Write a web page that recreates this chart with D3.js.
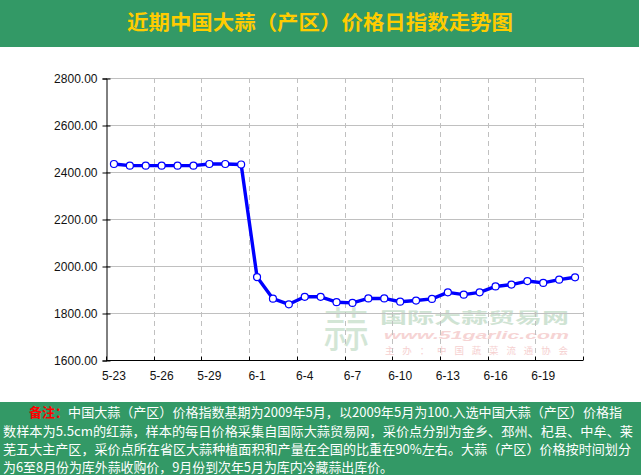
<!DOCTYPE html>
<html><head><meta charset="utf-8">
<script src="https://cdn.jsdelivr.net/npm/d3@7"></script>
<style>body{margin:0;background:#fff}svg{display:block}</style>
</head><body>
<svg id="c" width="641" height="475"></svg>
<script>
const title = "近期中国大蒜（产区）价格日指数走势图";
const categories = ["5-23","5-24","5-25","5-26","5-27","5-28","5-29","5-30","5-31",
  "6-1","6-2","6-3","6-4","6-5","6-6","6-7","6-8","6-9","6-10","6-11","6-12","6-13",
  "6-14","6-15","6-16","6-17","6-18","6-19","6-20","6-21"];
const values = [2434,2427,2427,2427,2427,2427,2434,2434,2432,
  1953,1861,1837,1869,1869,1846,1843,1862,1862,1848,1853,1860,1888,
  1878,1888,1913,1921,1936,1928,1942,1952];
const yTicks = [1600,1800,2000,2200,2400,2600,2800];
const xTickLabels = ["5-23","5-26","5-29","6-1","6-4","6-7","6-10","6-13","6-16","6-19"];
const noteLabel = "备注：";
const noteLines = [
  "中国大蒜（产区）价格指数基期为2009年5月，以2009年5月为100.入选中国大蒜（产区）价格指",
  "数样本为5.5cm的红蒜，样本的每日价格采集自国际大蒜贸易网，采价点分别为金乡、邳州、杞县、中牟、莱",
  "芜五大主产区，采价点所在省区大蒜种植面积和产量在全国的比重在90%左右。大蒜（产区）价格按时间划分",
  "为6至8月份为库外蒜收购价，9月份到次年5月为库内冷藏蒜出库价。"
];
const wmTitle = "国际大蒜贸易网", wmUrl = "www.51garlic.com", wmHost = "主办：中国蔬菜流通协会";

const svg = d3.select("#c");
const GREEN = "#339966";
const cjk = "'Noto Sans CJK SC', sans-serif";
const lat = "'Liberation Sans', Arial, sans-serif";

// title band
svg.append("rect").attr("x",0).attr("y",0).attr("width",639).attr("height",47).attr("fill",GREEN);
svg.append("text").attr("x",127).attr("y",30).attr("font-family",cjk).attr("font-size",20)
  .attr("font-weight","bold").attr("fill","#FFCC00").attr("textLength",386).attr("lengthAdjust","spacingAndGlyphs")
  .text(title);

const L=106,R=583,T=78,B=360;
const x = d3.scaleBand().domain(categories).range([L,R]);
const y = d3.scaleLinear().domain([1600,2800]).range([B,T]);

// watermark
const wm = svg.append("g");
wm.append("text").attr("x",323).attr("y",346).attr("font-family",cjk).attr("font-size",46)
  .attr("fill","#d3e6d6").text("蒜");
wm.append("text").attr("x",380).attr("y",323).attr("font-family",cjk).attr("font-size",15).attr("font-weight","bold")
  .attr("fill","#cfe3d3").attr("textLength",189).attr("lengthAdjust","spacingAndGlyphs").text(wmTitle);
wm.append("text").attr("x",384).attr("y",338.5).attr("font-family",lat).attr("font-size",11).attr("font-weight","bold")
  .attr("font-style","italic").attr("fill","#f6d4d4").attr("textLength",185).attr("lengthAdjust","spacingAndGlyphs").text(wmUrl);
wm.append("text").attr("x",385).attr("y",354).attr("font-family",cjk).attr("font-size",9.5)
  .attr("fill","#f6d0d0").attr("textLength",183).attr("lengthAdjust","spacing").text(wmHost);

// horizontal grid
svg.append("g").selectAll("line").data(yTicks).join("line")
  .attr("x1",L).attr("x2",R).attr("y1",d=>y(d)+0.5).attr("y2",d=>y(d)+0.5)
  .attr("stroke","#c0c0c0").attr("stroke-width",1);
// vertical dashed grid at band boundaries
const xb = xTickLabels.map(c=>x(c)).concat([R]);
svg.append("g").selectAll("line").data(xb.slice(1)).join("line")
  .attr("x1",d=>Math.round(d)+0.5).attr("x2",d=>Math.round(d)+0.5).attr("y1",T).attr("y2",B)
  .attr("stroke","#c0c0c0").attr("stroke-width",1).attr("stroke-dasharray","5,4");

// axes
const yAxis = d3.axisLeft(y).tickValues(yTicks).tickFormat(d3.format(".2f")).tickSize(4).tickPadding(5);
const gy = svg.append("g").attr("transform",`translate(${L+0.5},0.5)`).call(yAxis);
gy.select(".domain").attr("stroke","#000");
gy.selectAll(".tick line").attr("stroke","#000").attr("x2",-4).attr("x1",4);
gy.selectAll("text").attr("font-family",lat).attr("font-size",12).attr("fill","#111").attr("dy","0.36em");

const gx = svg.append("g").attr("transform",`translate(0,${B+0.5})`);
gx.append("line").attr("x1",L).attr("x2",R).attr("y1",0).attr("y2",0).attr("stroke","#000");
gx.selectAll("line.t").data(xb).join("line").attr("class","t")
  .attr("x1",d=>Math.round(d)+0.5).attr("x2",d=>Math.round(d)+0.5).attr("y1",0).attr("y2",-4).attr("stroke","#000");
gx.selectAll("text").data(xTickLabels).join("text")
  .attr("x",d=>x(d)+x.bandwidth()/2).attr("y",19).attr("text-anchor","middle")
  .attr("font-family",lat).attr("font-size",12).attr("fill","#111").text(d=>d);

// line
const pts = categories.map((c,i)=>[x(c)+x.bandwidth()/2, y(values[i])]);
svg.append("path").attr("d",d3.line()(pts)).attr("fill","none").attr("stroke","#0000ff")
  .attr("stroke-width",3.4).attr("stroke-linejoin","round");
svg.append("g").selectAll("circle").data(pts).join("circle")
  .attr("cx",d=>d[0]).attr("cy",d=>d[1]).attr("r",3.5)
  .attr("fill","#fff").attr("stroke","#0000ff").attr("stroke-width",1.2);

// footer
svg.append("rect").attr("x",0).attr("y",402).attr("width",641).attr("height",73).attr("fill",GREEN);
const lineX = [29,3,3,3], lineW = [593,630,628,390], lineY = [417,435.5,454,472];
noteLines.forEach((s,i)=>{
  const t = svg.append("text").attr("x",lineX[i]).attr("y",lineY[i]).attr("font-family",cjk).attr("font-size",13)
    .attr("fill","#fff").attr("textLength",lineW[i]).attr("lengthAdjust","spacingAndGlyphs");
  if (i === 0) t.append("tspan").attr("fill","#ff0000").attr("font-weight","bold").text(noteLabel);
  t.append("tspan").text(s);
});
</script>
</body></html>
